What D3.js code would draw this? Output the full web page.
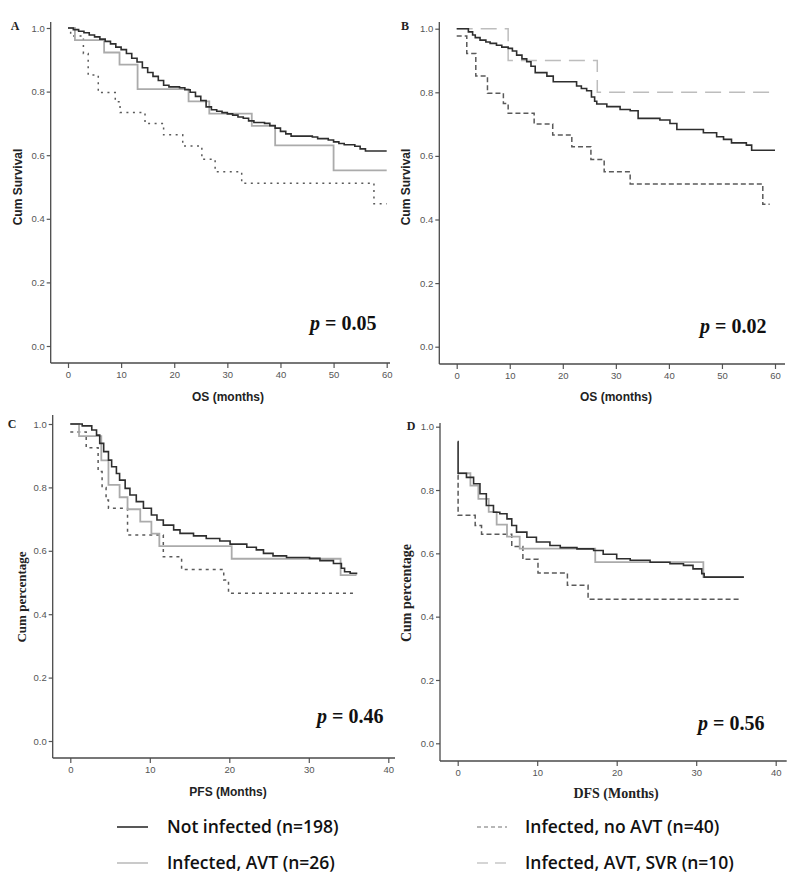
<!DOCTYPE html>
<html><head><meta charset="utf-8">
<script src="https://cdn.jsdelivr.net/npm/d3@7"></script>
<style>html,body{margin:0;padding:0;background:#fff;}svg{display:block;}</style>
</head><body>
<svg id="chart" width="800" height="882"></svg>
<script>
// ---------------- DATA ----------------
const yTickValues = [0, 0.2, 0.4, 0.6, 0.8, 1.0];
const osTicks = [0, 10, 20, 30, 40, 50, 60];
const pfsTicks = [0, 10, 20, 30, 40];
const panelLetters = ["A", "B", "C", "D"];
const pValues = ["0.05", "0.02", "0.46", "0.56"];
const xTitles = ["OS (months)", "OS (months)", "PFS (Months)", "DFS (Months)"];
const yTitles = ["Cum Survival", "Cum Survival", "Cum percentage", "Cum percentage"];
const legendLabels = ["Not infected (n=198)", "Infected, AVT (n=26)", "Infected, no AVT (n=40)", "Infected, AVT, SVR (n=10)"];

// Panel A (OS)
const osNotInfectedA = [[0,1],[1,0.995],[2,0.99],[3,0.985],[4,0.978],[5,0.972],[6,0.965],[7,0.958],[8,0.95],[9,0.94],[10,0.932],[11,0.92],[12,0.905],[13,0.893],[14,0.875],[15,0.86],[16,0.848],[17,0.835],[18,0.82],[19,0.815],[21,0.812],[22,0.806],[23,0.798],[24,0.785],[25,0.772],[26,0.752],[27,0.743],[28,0.738],[29,0.734],[30,0.73],[31,0.726],[32,0.72],[33,0.716],[34,0.708],[35,0.703],[37,0.7],[38,0.693],[39,0.685],[40,0.675],[41,0.667],[42,0.66],[46,0.657],[47,0.652],[49,0.648],[50,0.642],[51,0.637],[52,0.633],[54,0.628],[55,0.62],[56,0.613],[60,0.613]];
const osAvtA = [[0,1],[1.3,0.962],[6.8,0.923],[9.7,0.885],[13.1,0.808],[22.7,0.769],[26.6,0.731],[34.6,0.692],[39,0.631],[50,0.552],[60,0.552]];
const osNoAvtA = [[0,1],[0.5,0.975],[2.9,0.92],[3.8,0.852],[5.7,0.797],[8.9,0.768],[9.8,0.734],[14.5,0.70],[18,0.664],[21.6,0.629],[25.2,0.587],[27.7,0.548],[32.7,0.512],[57.6,0.447],[60,0.447]];

// Panel B (OS)
const osNotInfectedB = [[0,1],[2.2,0.99],[3,0.98],[3.5,0.972],[4.4,0.964],[5.5,0.958],[6.3,0.954],[7.5,0.948],[8.5,0.942],[9.7,0.938],[10.5,0.93],[11.3,0.917],[12.3,0.905],[13.2,0.896],[14,0.882],[14.8,0.862],[17,0.851],[18.2,0.833],[22.6,0.82],[23.5,0.812],[24.5,0.805],[25.4,0.785],[26,0.772],[26.4,0.763],[28.3,0.755],[30.8,0.746],[32.7,0.742],[34.2,0.718],[38.3,0.713],[40.2,0.702],[41.5,0.683],[46.5,0.673],[49,0.66],[50.3,0.652],[51.8,0.641],[54.6,0.634],[55.6,0.618],[60,0.618]];
const osSvrB = [[0,1],[9.7,0.9],[26.5,0.8],[59.7,0.8]];
const osNoAvtB = [[0,0.977],[1.9,0.922],[3.6,0.851],[5.8,0.797],[8.8,0.765],[9.7,0.734],[14.6,0.70],[18.1,0.666],[21.7,0.629],[25.3,0.589],[27.8,0.55],[32.7,0.512],[57.7,0.448],[59,0.448]];

// Panel C (PFS)
const pfsNotInfected = [[0,1],[1.5,0.994],[2.7,0.981],[3.3,0.965],[3.7,0.939],[4.2,0.913],[4.8,0.886],[5.2,0.865],[5.8,0.844],[6.2,0.823],[6.9,0.797],[7.5,0.776],[8.3,0.755],[9.2,0.734],[10.2,0.713],[10.9,0.697],[11.7,0.681],[13,0.666],[13.8,0.655],[15.5,0.647],[17.1,0.639],[18.8,0.631],[20.1,0.621],[22.2,0.611],[23.4,0.603],[24.3,0.592],[25.5,0.584],[27.2,0.579],[30.1,0.576],[31.4,0.569],[33.1,0.56],[34.1,0.545],[34.5,0.534],[35.2,0.529],[36,0.526]];
const pfsAvt = [[0,1],[1.1,0.962],[3.9,0.885],[4.8,0.808],[6.2,0.769],[7.2,0.731],[8.8,0.692],[10.2,0.654],[11.2,0.615],[20.3,0.575],[34,0.523],[36,0.523]];
const pfsNoAvt = [[0,0.975],[2,0.925],[3.5,0.85],[4.0,0.80],[4.5,0.76],[4.8,0.734],[7.2,0.65],[11.7,0.581],[14,0.541],[19.3,0.508],[19.9,0.466],[36,0.466]];

// Panel D (DFS)
const dfsNotInfected = [[0,0.953],[0.05,0.853],[1.1,0.84],[2,0.82],[2.8,0.788],[3.6,0.751],[4.5,0.73],[5.3,0.725],[6.2,0.709],[6.8,0.688],[7.4,0.667],[8.7,0.651],[9.9,0.636],[11.6,0.625],[12.9,0.618],[15,0.614],[17.1,0.609],[18.3,0.597],[20,0.583],[21.7,0.578],[24.2,0.572],[26.7,0.567],[28.4,0.562],[29.6,0.551],[30.7,0.536],[31,0.525],[36,0.525]];
const dfsAvt = [[0,0.853],[1.6,0.814],[2.6,0.772],[3.9,0.731],[4.9,0.691],[6.2,0.653],[7.8,0.615],[17.3,0.572],[30.9,0.525],[36,0.525]];
const dfsNoAvt = [[0,0.847],[0.05,0.72],[2.2,0.688],[3,0.66],[6.8,0.622],[8.2,0.581],[10.1,0.538],[13.8,0.499],[16.4,0.455],[35.5,0.455]];

// ---------------- STYLES / LAYOUT ----------------
const styles = {
  notInf: {stroke:"#2e2e2e", width:1.6, dash:null},
  avt:    {stroke:"#ababab", width:1.8, dash:null},
  noAvt:  {stroke:"#5a5a5a", width:1.5, dash:"2.5,4"},
  svr:    {stroke:"#bdbdbd", width:1.5, dash:"16,8"}
};

const panels = [
  {axisX:50.7, axisY:363, yTop:22, xEnd:390, x0:68, x1:386.7, xMax:60, y0:346, y1:28, ticks:osTicks,
   series:[[osNoAvtA,"noAvt","2,4.5"],[osAvtA,"avt"],[osNotInfectedA,"notInf"]],
   letter:[15,30], yT:[18,187], xT:[228,401], p:[310,330], ySerif:false, xSerif:false},
  {axisX:439.3, axisY:364, yTop:22, xEnd:785, x0:456.7, x1:775, xMax:60, y0:346.7, y1:28.7, ticks:osTicks,
   series:[[osSvrB,"svr"],[osNoAvtB,"noAvt","5,3"],[osNotInfectedB,"notInf"]],
   letter:[405,30], yT:[406,187], xT:[616,401], p:[700,333], ySerif:false, xSerif:false},
  {axisX:52.7, axisY:758, yTop:415, xEnd:395, x0:70.3, x1:388.3, xMax:40, y0:741, y1:424, ticks:pfsTicks,
   series:[[pfsNoAvt,"noAvt","3,4"],[pfsAvt,"avt"],[pfsNotInfected,"notInf"]],
   letter:[12,428], yT:[21,597], xT:[228,796], p:[317,723], ySerif:true, xSerif:false},
  {axisX:440, axisY:761, yTop:423, xEnd:786.7, x0:457.7, x1:775.7, xMax:40, y0:743.3, y1:426.7, ticks:pfsTicks,
   series:[[dfsNoAvt,"noAvt","5,3"],[dfsAvt,"avt"],[dfsNotInfected,"notInf"]],
   letter:[411,430], yT:[406,593], xT:[616,798], p:[698,730], ySerif:true, xSerif:true}
];

const svg = d3.select("#chart");
const SANS = "'Liberation Sans', Arial, sans-serif";
const SERIF = "'Liberation Serif', 'Times New Roman', serif";

panels.forEach((P, i) => {
  const g = svg.append("g");
  const x = d3.scaleLinear().domain([0, P.xMax]).range([P.x0, P.x1]);
  const y = d3.scaleLinear().domain([0, 1]).range([P.y0, P.y1]);

  // axes
  const xa = g.append("g").attr("transform", `translate(0,${P.axisY})`)
    .call(d3.axisBottom(x).tickValues(P.ticks).tickSize(5).tickPadding(3).tickFormat(d3.format("d")));
  const ya = g.append("g").attr("transform", `translate(${P.axisX},0)`)
    .call(d3.axisLeft(y).tickValues(yTickValues).tickSize(4).tickPadding(2).tickFormat(d3.format(".1f")));
  [xa, ya].forEach(a => {
    a.select(".domain").remove();
    a.selectAll(".tick line").attr("stroke", "#555").attr("stroke-width", 1.2);
    a.selectAll(".tick text").attr("fill", "#555").style("font-family", SANS).style("font-size", "9.5px");
  });
  g.append("line").attr("x1", P.axisX).attr("x2", P.axisX).attr("y1", P.yTop).attr("y2", P.axisY)
    .attr("stroke", "#4a4a4a").attr("stroke-width", 1.3);
  g.append("line").attr("x1", P.axisX).attr("x2", P.xEnd).attr("y1", P.axisY).attr("y2", P.axisY)
    .attr("stroke", "#4a4a4a").attr("stroke-width", 1.3);

  // curves
  const line = d3.line().x(d => x(d[0])).y(d => y(d[1])).curve(d3.curveStepAfter);
  P.series.forEach(([data, key, dash]) => {
    const s = styles[key];
    g.append("path").datum(data).attr("d", line)
      .attr("fill", "none").attr("stroke", s.stroke).attr("stroke-width", s.width)
      .attr("stroke-dasharray", dash || s.dash);
  });

  // letters and titles
  g.append("text").attr("x", P.letter[0]).attr("y", P.letter[1]).attr("text-anchor", "middle")
    .style("font-family", SERIF).style("font-weight", "bold").style("font-size", "12px").attr("fill", "#222")
    .text(panelLetters[i]);
  g.append("text").attr("transform", `translate(${P.yT[0]},${P.yT[1]}) rotate(-90)`)
    .attr("text-anchor", "middle").attr("dy", "0.35em")
    .style("font-family", P.ySerif ? SERIF : SANS).style("font-weight", "bold")
    .style("font-size", P.ySerif ? (i === 3 ? "14px" : "13px") : "12px").attr("fill", "#222")
    .text(yTitles[i]);
  g.append("text").attr("x", P.xT[0]).attr("y", P.xT[1]).attr("text-anchor", "middle")
    .style("font-family", P.xSerif ? SERIF : SANS).style("font-weight", "bold")
    .style("font-size", P.xSerif ? "14px" : "12px").attr("fill", "#222")
    .text(xTitles[i]);
  const pt = g.append("text").attr("x", P.p[0]).attr("y", P.p[1])
    .style("font-family", SERIF).style("font-weight", "bold").style("font-size", "20px").attr("fill", "#111");
  pt.append("tspan").style("font-style", "italic").text("p");
  pt.append("tspan").text(" = " + pValues[i]);
});

// legend
const legendPos = [[117,148,167,827],[117,148,167,863],[477,507,525,827],[477,507,525,863]];
const legendDash = [null, null, "4,3", "11,7"];
const legendColor = ["#2e2e2e", "#bdbdbd", "#a0a0a0", "#c8c8c8"];
legendLabels.forEach((lab, i) => {
  const [lx1, lx2, tx, ly] = legendPos[i];
  svg.append("line").attr("x1", lx1).attr("x2", lx2).attr("y1", ly).attr("y2", ly)
    .attr("stroke", legendColor[i]).attr("stroke-width", 1.6).attr("stroke-dasharray", legendDash[i]);
  svg.append("text").attr("x", tx).attr("y", ly).attr("dy", "0.35em")
    .style("font-family", "'Open Sans', sans-serif").style("font-weight", "600").style("font-size", "17.5px")
    .attr("fill", "#111").text(lab);
});
</script>
</body></html>
